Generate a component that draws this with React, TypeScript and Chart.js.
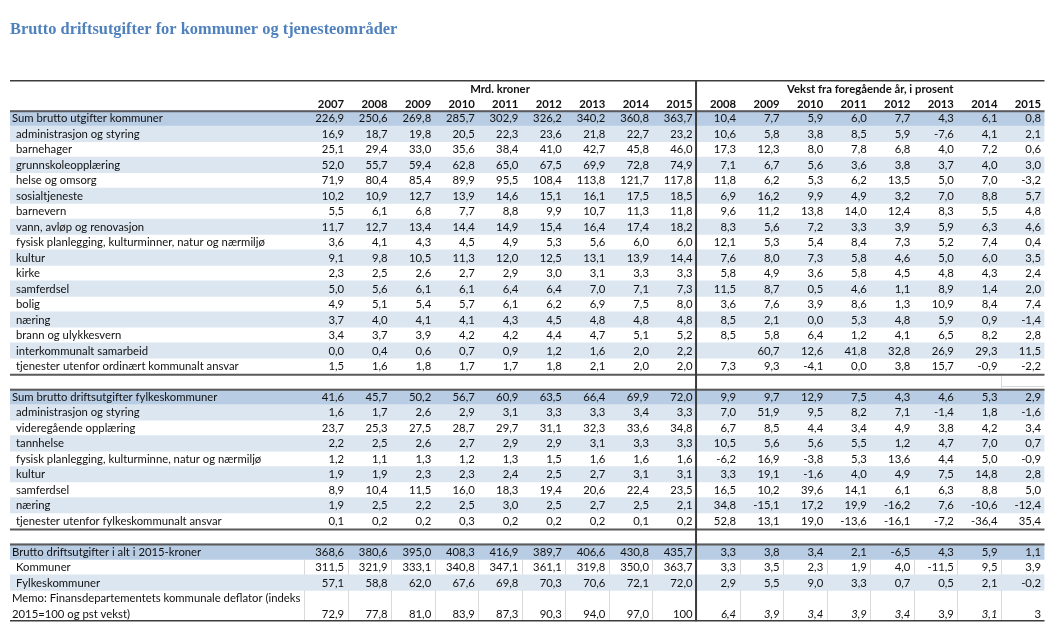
import React, { useEffect, useRef } from 'react';
import { Chart, registerables } from 'chart.js';

Chart.register(...registerables);

// ---------- Text ----------
const chartTitle = 'Brutto driftsutgifter for kommuner og tjenesteområder';
const levelHeader = 'Mrd. kroner';
const growthHeader = 'Vekst fra foregående år, i prosent';
const levelYears = ['2007', '2008', '2009', '2010', '2011', '2012', '2013', '2014', '2015'];
const growthYears = ['2008', '2009', '2010', '2011', '2012', '2013', '2014', '2015'];

// ---------- Kommuner ----------
const kommuneLabels = [
  'Sum brutto utgifter kommuner',
  'administrasjon og styring',
  'barnehager',
  'grunnskoleopplæring',
  'helse og omsorg',
  'sosialtjeneste',
  'barnevern',
  'vann, avløp og renovasjon',
  'fysisk planlegging, kulturminner, natur og nærmiljø',
  'kultur',
  'kirke',
  'samferdsel',
  'bolig',
  'næring',
  'brann og ulykkesvern',
  'interkommunalt samarbeid',
  'tjenester utenfor ordinært kommunalt ansvar',
];
const kommuneLevels: (number | null)[][] = [
  [226.9, 250.6, 269.8, 285.7, 302.9, 326.2, 340.2, 360.8, 363.7],
  [16.9, 18.7, 19.8, 20.5, 22.3, 23.6, 21.8, 22.7, 23.2],
  [25.1, 29.4, 33.0, 35.6, 38.4, 41.0, 42.7, 45.8, 46.0],
  [52.0, 55.7, 59.4, 62.8, 65.0, 67.5, 69.9, 72.8, 74.9],
  [71.9, 80.4, 85.4, 89.9, 95.5, 108.4, 113.8, 121.7, 117.8],
  [10.2, 10.9, 12.7, 13.9, 14.6, 15.1, 16.1, 17.5, 18.5],
  [5.5, 6.1, 6.8, 7.7, 8.8, 9.9, 10.7, 11.3, 11.8],
  [11.7, 12.7, 13.4, 14.4, 14.9, 15.4, 16.4, 17.4, 18.2],
  [3.6, 4.1, 4.3, 4.5, 4.9, 5.3, 5.6, 6.0, 6.0],
  [9.1, 9.8, 10.5, 11.3, 12.0, 12.5, 13.1, 13.9, 14.4],
  [2.3, 2.5, 2.6, 2.7, 2.9, 3.0, 3.1, 3.3, 3.3],
  [5.0, 5.6, 6.1, 6.1, 6.4, 6.4, 7.0, 7.1, 7.3],
  [4.9, 5.1, 5.4, 5.7, 6.1, 6.2, 6.9, 7.5, 8.0],
  [3.7, 4.0, 4.1, 4.1, 4.3, 4.5, 4.8, 4.8, 4.8],
  [3.4, 3.7, 3.9, 4.2, 4.2, 4.4, 4.7, 5.1, 5.2],
  [0.0, 0.4, 0.6, 0.7, 0.9, 1.2, 1.6, 2.0, 2.2],
  [1.5, 1.6, 1.8, 1.7, 1.7, 1.8, 2.1, 2.0, 2.0],
];
const kommuneGrowth: (number | null)[][] = [
  [10.4, 7.7, 5.9, 6.0, 7.7, 4.3, 6.1, 0.8],
  [10.6, 5.8, 3.8, 8.5, 5.9, -7.6, 4.1, 2.1],
  [17.3, 12.3, 8.0, 7.8, 6.8, 4.0, 7.2, 0.6],
  [7.1, 6.7, 5.6, 3.6, 3.8, 3.7, 4.0, 3.0],
  [11.8, 6.2, 5.3, 6.2, 13.5, 5.0, 7.0, -3.2],
  [6.9, 16.2, 9.9, 4.9, 3.2, 7.0, 8.8, 5.7],
  [9.6, 11.2, 13.8, 14.0, 12.4, 8.3, 5.5, 4.8],
  [8.3, 5.6, 7.2, 3.3, 3.9, 5.9, 6.3, 4.6],
  [12.1, 5.3, 5.4, 8.4, 7.3, 5.2, 7.4, 0.4],
  [7.6, 8.0, 7.3, 5.8, 4.6, 5.0, 6.0, 3.5],
  [5.8, 4.9, 3.6, 5.8, 4.5, 4.8, 4.3, 2.4],
  [11.5, 8.7, 0.5, 4.6, 1.1, 8.9, 1.4, 2.0],
  [3.6, 7.6, 3.9, 8.6, 1.3, 10.9, 8.4, 7.4],
  [8.5, 2.1, 0.0, 5.3, 4.8, 5.9, 0.9, -1.4],
  [8.5, 5.8, 6.4, 1.2, 4.1, 6.5, 8.2, 2.8],
  [null, 60.7, 12.6, 41.8, 32.8, 26.9, 29.3, 11.5],
  [7.3, 9.3, -4.1, 0.0, 3.8, 15.7, -0.9, -2.2],
];

// ---------- Fylkeskommuner ----------
const fylkeLabels = [
  'Sum brutto driftsutgifter fylkeskommuner',
  'administrasjon og styring',
  'videregående opplæring',
  'tannhelse',
  'fysisk planlegging, kulturminne, natur og nærmiljø',
  'kultur',
  'samferdsel',
  'næring',
  'tjenester utenfor fylkeskommunalt ansvar',
];
const fylkeLevels: (number | null)[][] = [
  [41.6, 45.7, 50.2, 56.7, 60.9, 63.5, 66.4, 69.9, 72.0],
  [1.6, 1.7, 2.6, 2.9, 3.1, 3.3, 3.3, 3.4, 3.3],
  [23.7, 25.3, 27.5, 28.7, 29.7, 31.1, 32.3, 33.6, 34.8],
  [2.2, 2.5, 2.6, 2.7, 2.9, 2.9, 3.1, 3.3, 3.3],
  [1.2, 1.1, 1.3, 1.2, 1.3, 1.5, 1.6, 1.6, 1.6],
  [1.9, 1.9, 2.3, 2.3, 2.4, 2.5, 2.7, 3.1, 3.1],
  [8.9, 10.4, 11.5, 16.0, 18.3, 19.4, 20.6, 22.4, 23.5],
  [1.9, 2.5, 2.2, 2.5, 3.0, 2.5, 2.7, 2.5, 2.1],
  [0.1, 0.2, 0.2, 0.3, 0.2, 0.2, 0.2, 0.1, 0.2],
];
const fylkeGrowth: (number | null)[][] = [
  [9.9, 9.7, 12.9, 7.5, 4.3, 4.6, 5.3, 2.9],
  [7.0, 51.9, 9.5, 8.2, 7.1, -1.4, 1.8, -1.6],
  [6.7, 8.5, 4.4, 3.4, 4.9, 3.8, 4.2, 3.4],
  [10.5, 5.6, 5.6, 5.5, 1.2, 4.7, 7.0, 0.7],
  [-6.2, 16.9, -3.8, 5.3, 13.6, 4.4, 5.0, -0.9],
  [3.3, 19.1, -1.6, 4.0, 4.9, 7.5, 14.8, 2.8],
  [16.5, 10.2, 39.6, 14.1, 6.1, 6.3, 8.8, 5.0],
  [34.8, -15.1, 17.2, 19.9, -16.2, 7.6, -10.6, -12.4],
  [52.8, 13.1, 19.0, -13.6, -16.1, -7.2, -36.4, 35.4],
];

// ---------- Totalt i 2015-kroner ----------
const totalLabels = ['Brutto driftsutgifter i alt i 2015-kroner', 'Kommuner', 'Fylkeskommuner'];
const totalLevels: (number | null)[][] = [
  [368.6, 380.6, 395.0, 408.3, 416.9, 389.7, 406.6, 430.8, 435.7],
  [311.5, 321.9, 333.1, 340.8, 347.1, 361.1, 319.8, 350.0, 363.7],
  [57.1, 58.8, 62.0, 67.6, 69.8, 70.3, 70.6, 72.1, 72.0],
];
const totalGrowth: (number | null)[][] = [
  [3.3, 3.8, 3.4, 2.1, -6.5, 4.3, 5.9, 1.1],
  [3.3, 3.5, 2.3, 1.9, 4.0, -11.5, 9.5, 3.9],
  [2.9, 5.5, 9.0, 3.3, 0.7, 0.5, 2.1, -0.2],
];

// ---------- Memo ----------
const memoLabelLines = ['Memo: Finansdepartementets kommunale deflator (indeks', '2015=100 og pst vekst)'];
const memoLevels = [72.9, 77.8, 81.0, 83.9, 87.3, 90.3, 94.0, 97.0, 100];
const memoLevelDecimals = [1, 1, 1, 1, 1, 1, 1, 1, 0];
const memoGrowth = [6.4, 3.9, 3.4, 3.9, 3.4, 3.9, 3.1, 3];
const memoGrowthDecimals = [1, 1, 1, 1, 1, 1, 1, 0];
const memoGrowthItalic = [true, true, true, true, true, false, true, false];

// ---------- Row model ----------
type Kind = 'header' | 'years' | 'sum' | 'item' | 'blank' | 'memo1' | 'memo2';
type Row = {
  kind: Kind;
  label: string;
  indent: boolean;
  band: 'dark' | 'light' | null;
  levels?: (number | null)[];
  growth?: (number | null)[];
  levelDec?: number[];
  growthDec?: number[];
  growthItalic?: boolean[];
};

const rows: Row[] = [];
rows.push({ kind: 'header', label: '', indent: false, band: null });
rows.push({ kind: 'years', label: '', indent: false, band: null });
kommuneLabels.forEach((l, i) =>
  rows.push({
    kind: i === 0 ? 'sum' : 'item',
    label: l,
    indent: i > 0,
    band: i === 0 ? 'dark' : i % 2 === 1 ? 'light' : null,
    levels: kommuneLevels[i],
    growth: kommuneGrowth[i],
  })
);
rows.push({ kind: 'blank', label: '', indent: false, band: null });
fylkeLabels.forEach((l, i) =>
  rows.push({
    kind: i === 0 ? 'sum' : 'item',
    label: l,
    indent: i > 0,
    band: i === 0 ? 'dark' : i % 2 === 1 ? 'light' : null,
    levels: fylkeLevels[i],
    growth: fylkeGrowth[i],
  })
);
rows.push({ kind: 'blank', label: '', indent: false, band: null });
totalLabels.forEach((l, i) =>
  rows.push({
    kind: i === 0 ? 'sum' : 'item',
    label: l,
    indent: i > 0,
    band: i === 0 ? 'dark' : i % 2 === 0 ? 'light' : null,
    levels: totalLevels[i],
    growth: totalGrowth[i],
  })
);
rows.push({ kind: 'memo1', label: memoLabelLines[0], indent: false, band: null });
rows.push({
  kind: 'memo2',
  label: memoLabelLines[1],
  indent: false,
  band: null,
  levels: memoLevels,
  growth: memoGrowth,
  levelDec: memoLevelDecimals,
  growthDec: memoGrowthDecimals,
  growthItalic: memoGrowthItalic,
});

const X_MIN = -7.25;
const X_MAX = 16.5;
const LEVEL_COL0 = 0;
const GROWTH_COL0 = levelYears.length;

const fmt = (v: number | null | undefined, d = 1) =>
  v === null || v === undefined ? '' : v.toFixed(d).replace('.', ',');

const FONT = 'Lato';
const FS = 11.3;

const tablePlugin = {
  id: 'tableCells',
  afterDatasetsDraw(chart: any) {
    const { ctx } = chart;
    const x = chart.scales.x;
    const y = chart.scales.y;
    const rowTop = (i: number) => y.getPixelForValue(i - 0.5);
    const rowMid = (i: number) => y.getPixelForValue(i);
    const colRight = (c: number) => x.getPixelForValue(c + 0.5);
    const L = x.getPixelForValue(X_MIN);
    const R = x.getPixelForValue(X_MAX);
    const lastRow = rows.length - 1;

    ctx.save();

    // faint cell borders in white rows of the last block
    ctx.strokeStyle = '#d9d9d9';
    ctx.lineWidth = 1;
    rows.forEach((r, i) => {
      if (i < 30 || r.band) return;
      for (let c = -1; c < X_MAX - 0.5; c++) {
        if (c === GROWTH_COL0 - 1) continue;
        const px = Math.round(colRight(c)) + 0.5;
        ctx.beginPath();
        ctx.moveTo(px, rowTop(i));
        ctx.lineTo(px, rowTop(i + 1));
        ctx.stroke();
      }
    });
    // faint box in first blank row
    const b1 = rows.findIndex((r) => r.kind === 'blank');
    {
      const px = Math.round(colRight(X_MAX - 1.5)) + 0.5;
      ctx.beginPath();
      ctx.moveTo(px, rowTop(b1));
      ctx.lineTo(px, rowTop(b1 + 1));
      ctx.moveTo(px, Math.round(rowTop(b1 + 1)) - 2.5);
      ctx.lineTo(R, Math.round(rowTop(b1 + 1)) - 2.5);
      ctx.stroke();
    }

    const hline = (yy: number, w: number, color: string) => {
      ctx.strokeStyle = color;
      ctx.lineWidth = w;
      ctx.beginPath();
      ctx.moveTo(L, yy);
      ctx.lineTo(R, yy);
      ctx.stroke();
    };
    hline(rowTop(0) + 1, 1.5, '#3c3c3c');
    rows.forEach((r, i) => {
      if (r.kind === 'sum') hline(rowTop(i) + 0.5, 2, '#5a5a5a');
      if (r.kind === 'blank') hline(rowTop(i) + 1, 2, '#5a5a5a');
    });
    hline(rowTop(lastRow + 1) - 0.5, 1.5, '#3c3c3c');

    // vertical divider
    const dx = colRight(GROWTH_COL0 - 1);
    ctx.strokeStyle = '#3c3c3c';
    ctx.lineWidth = 2;
    ctx.beginPath();
    ctx.moveTo(dx, rowTop(0) + 0.5);
    ctx.lineTo(dx, rowTop(lastRow + 1));
    ctx.stroke();

    // text
    ctx.fillStyle = '#111111';
    ctx.textBaseline = 'alphabetic';
    const setFont = (bold: boolean, italic = false) => {
      ctx.font = `${italic ? 'italic ' : ''}${bold ? 'bold ' : ''}${FS}px ${FONT}`;
    };
    const base = (i: number) => rowMid(i) + 4;

    // headers
    setFont(true);
    ctx.textAlign = 'center';
    ctx.fillText(levelHeader, x.getPixelForValue((LEVEL_COL0 - 0.5 + GROWTH_COL0 - 0.5) / 2), base(0) + 1.5);
    ctx.fillText(growthHeader, x.getPixelForValue((GROWTH_COL0 - 0.5 + X_MAX) / 2), base(0) + 1.5);
    ctx.textAlign = 'right';
    levelYears.forEach((t, k) => ctx.fillText(t, colRight(LEVEL_COL0 + k) - 3.5, base(1) + 1.5));
    growthYears.forEach((t, k) => ctx.fillText(t, colRight(GROWTH_COL0 + k) - 3.5, base(1) + 1.5));

    rows.forEach((r, i) => {
      if (r.kind === 'header' || r.kind === 'years' || r.kind === 'blank') return;
      setFont(false);
      ctx.textAlign = 'left';
      if (r.label) ctx.fillText(r.label, L + (r.indent ? 6 : 2), base(i));
      ctx.textAlign = 'right';
      (r.levels || []).forEach((v, k) => {
        setFont(false);
        ctx.fillText(fmt(v, r.levelDec ? r.levelDec[k] : 1), colRight(LEVEL_COL0 + k) - 3.5, base(i));
      });
      (r.growth || []).forEach((v, k) => {
        setFont(false, r.growthItalic ? r.growthItalic[k] : false);
        ctx.fillText(fmt(v, r.growthDec ? r.growthDec[k] : 1), colRight(GROWTH_COL0 + k) - 3.5, base(i));
      });
    });

    ctx.restore();
  },
};

export default function App() {
  const ref = useRef<HTMLCanvasElement>(null);
  useEffect(() => {
    if (!ref.current) return;
    const chart = new Chart(ref.current, {
      type: 'bar',
      data: {
        labels: rows.map((r) => r.label),
        datasets: [
          {
            data: rows.map((r) => (r.band ? [X_MIN, X_MAX] : null)) as any,
            backgroundColor: rows.map((r) => (r.band === 'dark' ? '#b8cce4' : '#dce6f1')),
            borderWidth: 0,
            barPercentage: 1,
            categoryPercentage: 1,
          },
        ],
      },
      options: {
        indexAxis: 'y',
        animation: false,
        responsive: false,
        events: [],
        layout: { padding: { left: 10, right: 15.5, top: 0, bottom: 17.75 } },
        scales: {
          x: { type: 'linear', min: X_MIN, max: X_MAX, display: false },
          y: { type: 'category', display: false, offset: true },
        },
        plugins: {
          legend: { display: false },
          tooltip: { enabled: false },
          title: {
            display: true,
            text: chartTitle,
            align: 'start',
            color: '#4f81bd',
            font: { family: 'Liberation Serif', size: 16.4, weight: 'bold', lineHeight: 1.2 },
            padding: { top: 20.4, bottom: 39.67 },
          },
        },
      },
      plugins: [tablePlugin],
    });
    return () => chart.destroy();
  }, []);
  return (
    <div style={{ position: 'absolute', left: 0, top: 0, width: 1060, height: 639, background: '#fff' }}>
      <canvas ref={ref} width={1060} height={639} style={{ display: 'block' }} />
    </div>
  );
}
